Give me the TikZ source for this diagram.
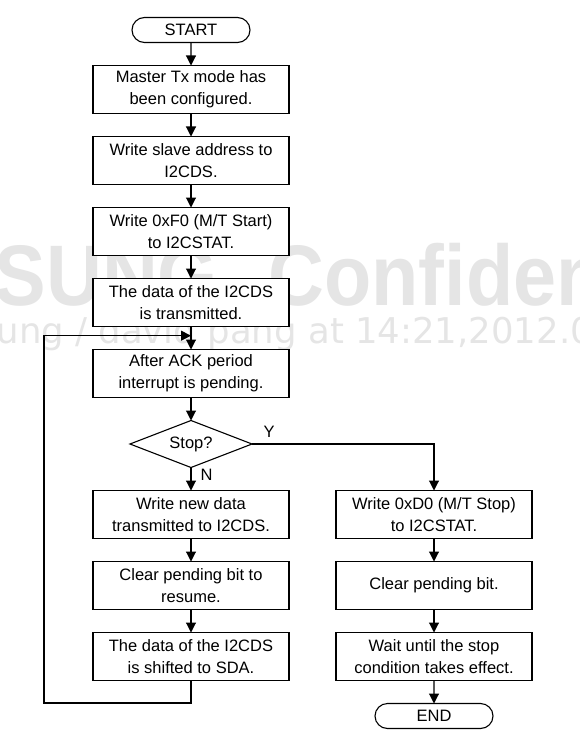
\documentclass[tikz,border=0pt]{standalone}
\usepackage{fontspec}
\setmainfont{Liberation Sans}
\newfontfamily\markfont{DejaVu Sans}
\usetikzlibrary{positioning, arrows.meta, shapes.geometric, shapes.misc, calc}
\newcommand{\flowfont}{\fontsize{16.5}{22}\selectfont}
\tikzset{
    box/.style = {
        rectangle,
        draw,
        fill=white,
        minimum width=196pt,
        minimum height=48pt,
        inner sep=2pt,
        outer sep=0pt,
        align=center,
        font=\flowfont
    },
    termbox/.style = {rounded rectangle, draw, fill=white, minimum width=122pt, minimum height=25pt, inner sep=2pt, outer sep=0pt, font=\flowfont},
    decision/.style = {diamond, draw, fill=white, aspect=2.6, minimum width=122pt, minimum height=47pt, inner sep=0pt, outer sep=0pt, font=\flowfont},
    answer/.style = {inner sep=1pt, font=\flowfont},
    markbox/.style = {text=black!10, inner sep=0pt},
    arrow/.style = {-{Triangle[length=10pt, width=10pt]}, line width=1.1pt}
}
\begin{document}
\begin{tikzpicture}[x=1pt, y=-1pt, node distance=23pt and 47pt, line width=1.1pt]
\useasboundingbox (0,0) rectangle (580,741);

% Filigrane
\node[markbox, anchor=base west, font=\fontsize{86}{86}\selectfont\bfseries, xscale=0.9] (markone) at (-6,305) {SUNG\hspace{32pt} Confiden};
\node[markbox, anchor=base west, font=\fontsize{35.5}{36}\markfont] (marktwo) at (-4,343) {ung / david pang at 14:21,2012.0};

% Colonne principale
\node[termbox] (start) at (191,30) {START};
\node[box, below=of start] (config) {Master Tx mode has\\been configured.};
\node[box, below=of config] (slaveaddr) {Write slave address to\\I2CDS.};
\node[box, below=of slaveaddr] (startcmd) {Write 0xF0 (M/T Start)\\to I2CSTAT.};
\node[box, below=of startcmd] (sent) {The data of the I2CDS\\is transmitted.};
\node[box, below=of sent] (ackpend) {After ACK period\\interrupt is pending.};
\node[decision, below=of ackpend] (stopq) {Stop?};

\draw[arrow] (start) -- (config);
\draw[arrow] (config) -- (slaveaddr);
\draw[arrow] (slaveaddr) -- (startcmd);
\draw[arrow] (startcmd) -- (sent);
\draw[arrow] (sent) -- (ackpend);
\draw[arrow] (ackpend) -- (stopq);

% --- N ---
\node[box, below=of stopq] (newdata) {Write new data\\transmitted to I2CDS.};
\node[box, below=of newdata] (clrres) {Clear pending bit to\\resume.};
\node[box, below=of clrres] (shifted) {The data of the I2CDS\\is shifted to SDA.};

\draw[arrow] (stopq) -- (newdata);
\draw[arrow] (newdata) -- (clrres);
\draw[arrow] (clrres) -- (shifted);

\node[answer, anchor=north west, xshift=8pt] (nlabel) at (stopq.south) {N};

% retour vers l'attente ACK
\coordinate (joinack) at ($(sent.south)!0.4!(ackpend.north)$);
\coordinate (loopcorner) at (44,703);
\draw[arrow] (shifted.south) |- (loopcorner) |- (joinack);

% --- Y ---
\node[box, right=of newdata] (stopcmd) {Write 0xD0 (M/T Stop)\\to I2CSTAT.};
\node[box, below=of stopcmd] (clrbit) {Clear pending bit.};
\node[box, below=of clrbit] (waitstop) {Wait until the stop\\condition takes effect.};
\node[termbox, below=of waitstop] (finish) {END};

\draw[arrow] (stopq.east) -| (stopcmd.north);
\draw[arrow] (stopcmd) -- (clrbit);
\draw[arrow] (clrbit) -- (waitstop);
\draw[arrow] (waitstop) -- (finish);

\node[answer, anchor=south west, xshift=10pt, yshift=5pt] (ylabel) at (stopq.east) {Y};

\end{tikzpicture}
\end{document}
